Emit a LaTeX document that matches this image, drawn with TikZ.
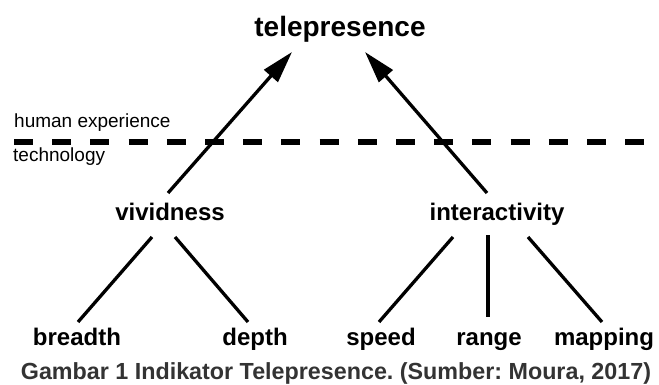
\documentclass[tikz,border=0pt]{standalone}
\usepackage{fontspec}
\setmainfont{Liberation Sans}
\usetikzlibrary{arrows.meta}
\definecolor{capgray}{HTML}{333333}
\frenchspacing
\begin{document}
\begin{tikzpicture}[x=1pt,y=-1pt,
  lbl/.style={font=\fontsize{24}{28}\selectfont\bfseries, inner sep=0pt, anchor=base},
  side/.style={font=\fontsize{19}{22}\selectfont, inner sep=0pt, anchor=base west},
  edge/.style={line width=3.3pt},
  arr/.style={line width=3.3pt, -{Triangle[length=32pt,width=18pt]}},
  sep/.style={line width=5.5pt, dash pattern=on 19pt off 19.2pt},
]
\useasboundingbox (0,0) rectangle (659,385);
% labels
\node[font=\fontsize{28}{32}\selectfont\bfseries, inner sep=0pt, anchor=base] (tele) at (340,37) {telepresence};
\node[side] (human) at (14,128) {human experience};
\node[side] (tech) at (13,162) {technology};
\node[lbl] (vivid) at (170,220) {vividness};
\node[lbl] (inter) at (497,220) {interactivity};
\node[lbl] (breadth) at (77,345) {breadth};
\node[lbl] (depth) at (255,345) {depth};
\node[lbl] (speed) at (381,345) {speed};
\node[lbl] (range) at (489,345) {range};
\node[lbl] (mapping) at (604,345) {mapping};
\node[font=\fontsize{23.3}{26}\selectfont\bfseries, text=capgray, inner sep=0pt, anchor=base] (cap) at (336,379) {Gambar 1 Indikator Telepresence. (Sumber: Moura, 2017)};
% connector end points
\coordinate (sepL) at (14,142);
\coordinate (sepR) at (644,142);
\coordinate (teleL) at (292,52);
\coordinate (teleR) at (365,52);
\coordinate (vividUp) at (168,193);
\coordinate (interUp) at (487,193);
\coordinate (vividDL) at (152,237);
\coordinate (vividDR) at (175,237);
\coordinate (interDL) at (453,237);
\coordinate (interDM) at (488,235);
\coordinate (interDR) at (528,237);
\coordinate (breadthUp) at (78,322);
\coordinate (depthUp) at (248,322);
\coordinate (speedUp) at (379,322);
\coordinate (rangeUp) at (488,317);
\coordinate (mappingUp) at (602,322);
% connectors
\draw[sep] (sepL) -- (sepR);
\draw[arr] (vividUp) -- (teleL);
\draw[arr] (interUp) -- (teleR);
\draw[edge] (vividDL) -- (breadthUp);
\draw[edge] (vividDR) -- (depthUp);
\draw[edge] (interDL) -- (speedUp);
\draw[edge] (interDM) -- (rangeUp);
\draw[edge] (interDR) -- (mappingUp);
\end{tikzpicture}
\end{document}
